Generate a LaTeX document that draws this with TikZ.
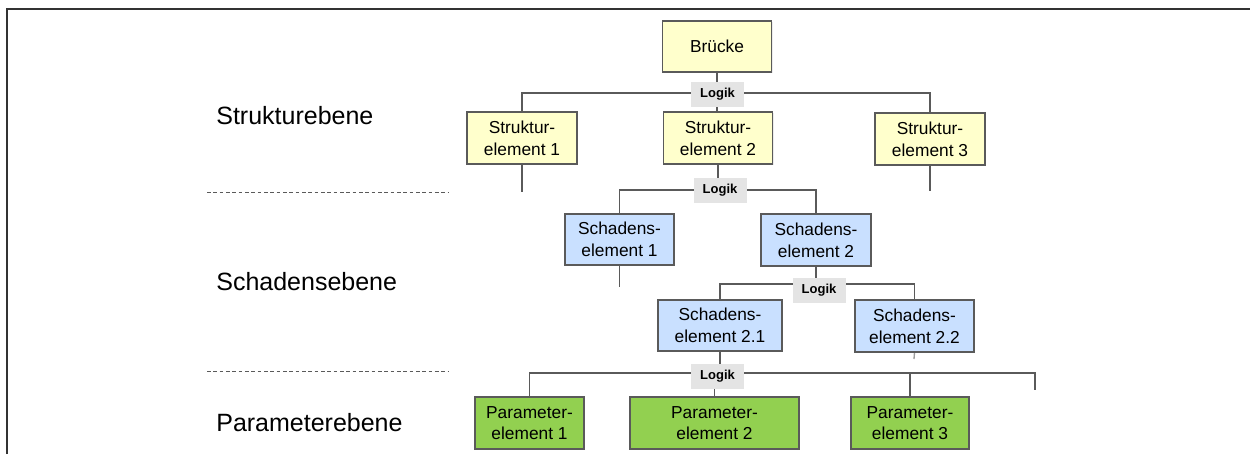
\documentclass[tikz,border=0pt]{standalone}
\usepackage{fontspec}
\setmainfont{Liberation Sans}
\usetikzlibrary{shadows}
\pgfdeclarelayer{background}
\pgfsetlayers{background,main}
\definecolor{boxyellow}{HTML}{FFFFCC}
\definecolor{boxblue}{HTML}{C9E0FF}
\definecolor{boxgreen}{HTML}{92D050}
\definecolor{logikgray}{HTML}{E4E4E4}
\definecolor{edgegray}{HTML}{5A5A5A}
\tikzset{
  elem/.style={draw=edgegray, line width=0.7pt, align=center, inner sep=0pt,
    font=\fontsize{10.4}{13}\selectfont,
    drop shadow={opacity=0.15, shadow xshift=0.8pt, shadow yshift=-0.8pt}},
  yel/.style={elem, fill=boxyellow},
  blu/.style={elem, fill=boxblue},
  grn/.style={elem, fill=boxgreen},
  logik/.style={fill=logikgray, minimum width=53*0.6pt, minimum height=25*0.6pt,
    inner sep=0pt, font=\fontsize{7.8}{9}\selectfont\bfseries},
  conn/.style={draw=edgegray, line width=0.8pt},
  level/.style={anchor=base west, inner sep=0pt, font=\fontsize{15}{18}\selectfont},
  sep/.style={draw=edgegray, line width=0.6pt, dash pattern=on 2.2pt off 1.6pt},
}
\begin{document}
\begin{tikzpicture}[x=0.6pt, y=-0.6pt]
\useasboundingbox (0,0) rectangle (1250,454);
% frame
\draw[line width=1.3pt, draw=black!80] (7,454) -- (7,9) -- (1250,9);

% level labels
\node[level] (lstr) at (216,124) {Strukturebene};
\node[level] (lsch) at (216,290) {Schadensebene};
\node[level] (lpar) at (216,431) {Parameterebene};
\coordinate (sepAl) at (207,192);
\coordinate (sepAr) at (448,192);
\coordinate (sepBl) at (207,371);
\coordinate (sepBr) at (448,371);
\draw[sep] (sepAl) -- (sepAr);
\draw[sep] (sepBl) -- (sepBr);

% boxes
\node[yel, minimum width=109*0.6pt, minimum height=51*0.6pt] (br) at (717,46.5) {Brücke};
\node[yel, minimum width=110*0.6pt, minimum height=52*0.6pt] (s1) at (522,138) {Struktur-\\element 1};
\node[yel, minimum width=109*0.6pt, minimum height=52*0.6pt] (s2) at (718,138) {Struktur-\\element 2};
\node[yel, minimum width=110*0.6pt, minimum height=52*0.6pt] (s3) at (930,139) {Struktur-\\element 3};
\node[blu, minimum width=109*0.6pt, minimum height=51*0.6pt] (d1) at (619.5,239.5) {Schadens-\\element 1};
\node[blu, minimum width=110*0.6pt, minimum height=52*0.6pt] (d2) at (816,240) {Schadens-\\element 2};
\node[blu, minimum width=124*0.6pt, minimum height=51*0.6pt] (d21) at (720,325.5) {Schadens-\\element 2.1};
\node[blu, minimum width=119*0.6pt, minimum height=52*0.6pt] (d22) at (914.5,326) {Schadens-\\element 2.2};
\node[grn, minimum width=109*0.6pt, minimum height=52*0.6pt] (p1) at (529.5,423) {Parameter-\\element 1};
\node[grn, minimum width=169*0.6pt, minimum height=52*0.6pt] (p2) at (714.5,423) {Parameter-\\element 2};
\node[grn, minimum width=118*0.6pt, minimum height=52*0.6pt] (p3) at (910,423) {Parameter-\\element 3};

% logic nodes
\node[logik] (L1) at (717.5,94.5) {Logik};
\node[logik] (L2) at (720,190.5) {Logik};
\node[logik] (L3) at (819,290.5) {Logik};
\node[logik] (L4) at (717.5,376.5) {Logik};

% bus levels and free ends
\coordinate (b1) at (0,93);
\coordinate (b2) at (0,190);
\coordinate (b3) at (0,284);
\coordinate (b4) at (0,373);
\coordinate (s1end) at (522,192);
\coordinate (s3end) at (930,191);
\coordinate (d1end) at (619.5,287);
\coordinate (d22end) at (914,359);
\coordinate (p4top) at (1035,373);
\coordinate (p4end) at (1035,390);

\begin{pgfonlayer}{background}
% level 1
\draw[conn] (br.south) -- (br.south |- s2.north);
\draw[conn] (s1.north) -- (s1.north |- b1) -- (s3.north |- b1) -- (s3.north);
\draw[conn] (s1.south) -- (s1end);
\draw[conn] (s3.south) -- (s3end);
% level 2
\draw[conn] (s2.south) -- (s2.south |- L2.north);
\draw[conn] (d1.north) -- (d1.north |- b2) -- (d2.north |- b2) -- (d2.north);
\draw[conn] (d1.south) -- (d1end);
% level 3
\draw[conn] (d2.south) -- (d2.south |- b3);
\draw[conn] (d21.north) -- (d21.north |- b3) -- (d22.north |- b3) -- (d22.north);
\draw[conn, draw=edgegray!60] (d22.south) -- (d22end);
% level 4
\draw[conn] (d21.south) -- (d21.south |- L4.north);
\draw[conn] (L4.south -| p2.north) -- (p2.north);
\draw[conn] (p1.north) -- (p1.north |- b4) -- (p4top) -- (p4end);
\draw[conn] (p3.north |- b4) -- (p3.north);
\end{pgfonlayer}
\end{tikzpicture}
\end{document}
